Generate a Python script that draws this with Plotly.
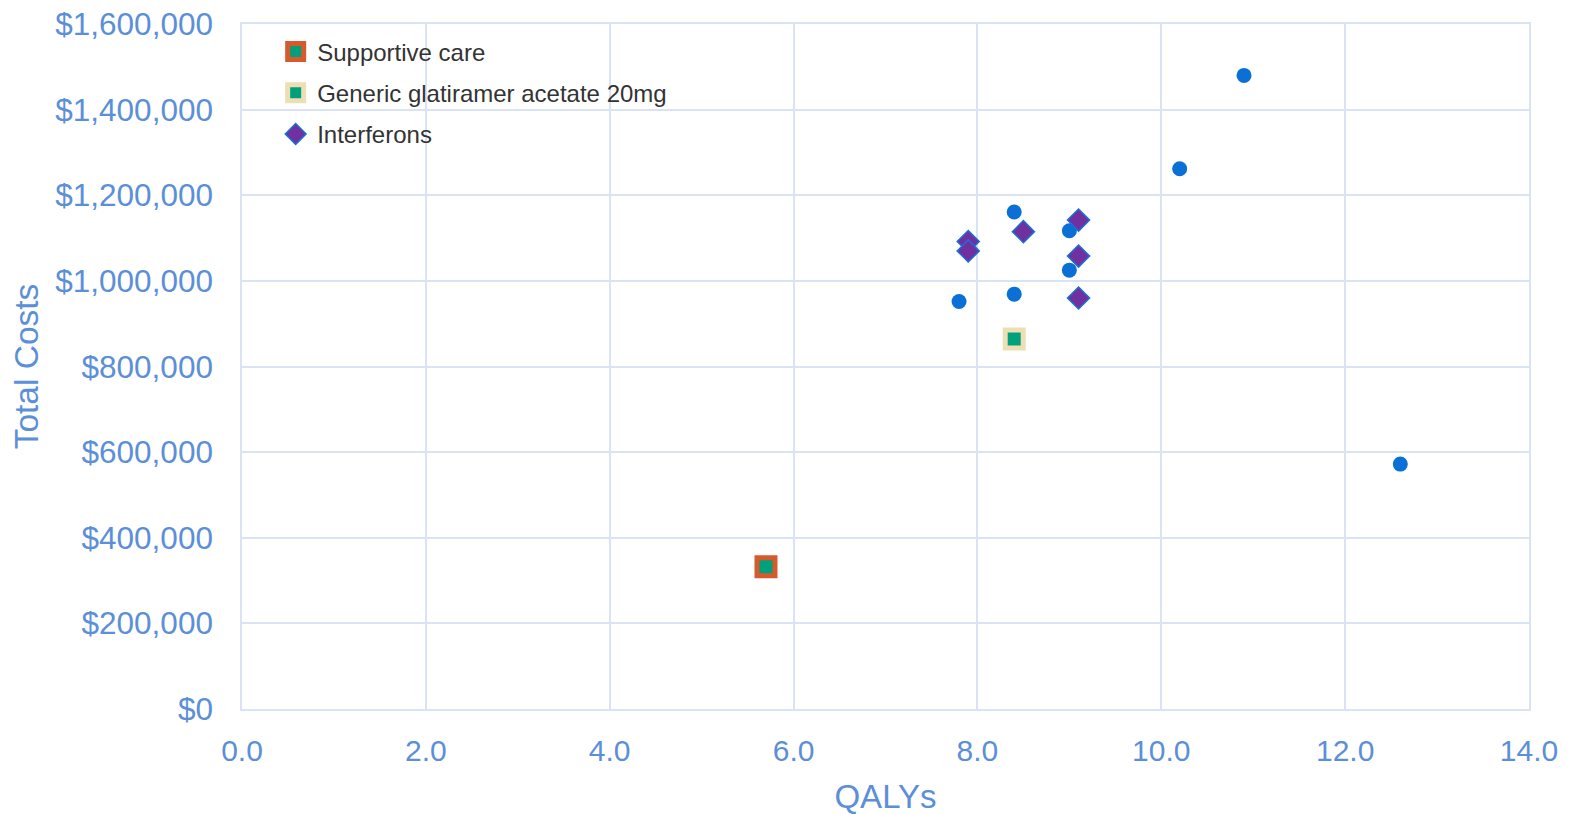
import plotly.graph_objects as go

# Data
other_qalys = [10.9, 10.2, 8.4, 9.0, 9.0, 8.4, 7.8, 12.6]
other_costs = [1480000, 1262000, 1161000, 1117000, 1025000, 969000, 952000, 572000]

supportive_qalys = [5.7]
supportive_costs = [332000]

glatiramer_qalys = [8.4]
glatiramer_costs = [864000]

interferon_qalys = [7.9, 7.9, 8.5, 9.1, 9.1, 9.1]
interferon_costs = [1092000, 1070000, 1115000, 1142000, 1058000, 960000]

x_ticks = [0, 2, 4, 6, 8, 10, 12, 14]
y_ticks = [0, 200000, 400000, 600000, 800000, 1000000, 1200000, 1400000, 1600000]
x_labels = [f"{v:.1f}" for v in x_ticks]
y_labels = [f"${v:,}" for v in y_ticks]

axis_color = "#5B8FD8"
grid_color = "#D9E3F4"
FONT = "Arial, Liberation Sans, sans-serif"

fig = go.Figure()

fig.add_trace(go.Scatter(
    x=other_qalys, y=other_costs, mode="markers", name="Other treatments",
    showlegend=False,
    marker=dict(symbol="circle", size=15, color="#0A70D5", line=dict(width=0)),
))
fig.add_trace(go.Scatter(
    x=supportive_qalys, y=supportive_costs, mode="markers", name="Supportive care",
    legendgroup="a",
    marker=dict(symbol="square", size=18, color="#00A07C", line=dict(width=5, color="#D65A2C")),
))
fig.add_trace(go.Scatter(
    x=glatiramer_qalys, y=glatiramer_costs, mode="markers", name="Generic glatiramer acetate 20mg",
    legendgroup="b",
    marker=dict(symbol="square", size=18, color="#00A07C", line=dict(width=5, color="#EDDFB3")),
))
fig.add_trace(go.Scatter(
    x=interferon_qalys, y=interferon_costs, mode="markers", name="Interferons",
    legendgroup="c",
    marker=dict(symbol="diamond", size=17, color="#7030A0", line=dict(width=1.5, color="#1A6FD6")),
))

# page body has an 8px default margin, so the figure is sized to fit the window
fig.update_layout(
    width=1567, height=807,
    margin=dict(l=234, r=46, t=16, b=106),
    paper_bgcolor="white", plot_bgcolor="white",
    font=dict(family=FONT, color=axis_color),
    legend=dict(
        x=0.025, y=0.992, xanchor="left", yanchor="top",
        font=dict(size=24, color="#333333", family=FONT),
        bgcolor="rgba(0,0,0,0)", tracegroupgap=7, itemwidth=33,
    ),
    xaxis=dict(
        range=[0, 14], tickmode="array", tickvals=x_ticks, ticktext=x_labels,
        showgrid=True, gridcolor=grid_color, gridwidth=1.5,
        zeroline=False, showline=True, mirror=True, linecolor=grid_color, linewidth=1.5,
        automargin=False, ticklabeloverflow="allow",
        tickfont=dict(size=30, color=axis_color),
        ticklabelstandoff=14,
        title=dict(text="QALYs", font=dict(size=33, color=axis_color), standoff=30),
    ),
    yaxis=dict(
        range=[0, 1600000], tickmode="array", tickvals=y_ticks, ticktext=y_labels,
        showgrid=True, gridcolor=grid_color, gridwidth=1.5,
        zeroline=False, showline=True, mirror=True, linecolor=grid_color, linewidth=1.5,
        automargin=False, ticklabeloverflow="allow",
        tickfont=dict(size=31.5, color=axis_color),
        ticklabelstandoff=21,
        title=dict(text="Total Costs", font=dict(size=33.5, color=axis_color), standoff=7),
    ),
)

fig.write_html("out.html")
